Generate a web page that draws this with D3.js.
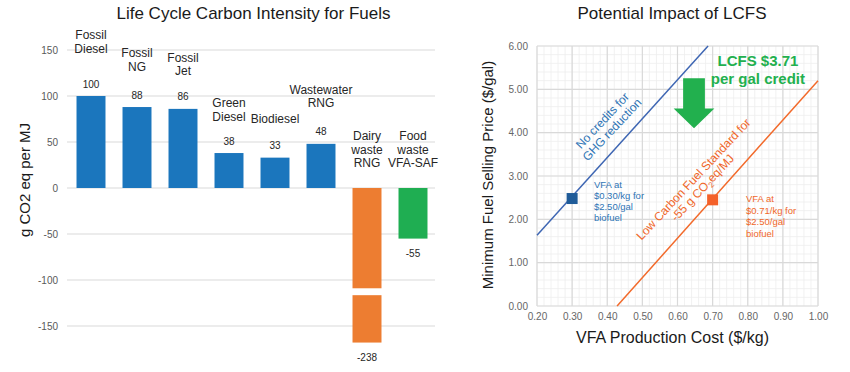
<!DOCTYPE html>
<html>
<head>
<meta charset="utf-8">
<script src="https://cdn.jsdelivr.net/npm/d3@7/dist/d3.min.js"></script>
<style>
  html, body { margin: 0; padding: 0; background: #ffffff; }
  svg { display: block; font-family: "Liberation Sans", Arial, Helvetica, sans-serif; }
</style>
</head>
<body>
<svg id="chart" width="850" height="372"></svg>
<script>
// ---------- Left chart data ----------
const categories = ["Fossil Diesel", "Fossil NG", "Fossil Jet", "Green Diesel", "Biodiesel", "Wastewater RNG", "Dairy waste RNG", "Food waste VFA-SAF"];
const categoryLines = [["Fossil", "Diesel"], ["Fossil", "NG"], ["Fossil", "Jet"], ["Green", "Diesel"], ["Biodiesel"], ["Wastewater", "RNG"], ["Dairy", "waste", "RNG"], ["Food", "waste", "VFA-SAF"]];
const ciValues = [100, 88, 86, 38, 33, 48, -238, -55];
const barGroup = ["fossil", "fossil", "fossil", "fossil", "fossil", "fossil", "dairy", "food"];
const ciTicks = [150, 100, 50, 0, -50, -100, -150];
const ciAxisFloor = -168;          // value where the broken bar is cut
const ciBreak = [-109, -116.5];    // axis break band on the broken bar

// ---------- Right chart data ----------
const costTicks = [0.2, 0.3, 0.4, 0.5, 0.6, 0.7, 0.8, 0.9, 1.0];
const priceTicks = [0, 1, 2, 3, 4, 5, 6];
const noCreditLine = [[0.2, 1.63], [0.687, 6.0]];
const lcfsLine = [[0.428, 0.0], [1.0, 5.2]];
const noCreditPoint = [0.30, 2.48];
const lcfsPoint = [0.70, 2.45];
const noCreditNote = ["VFA at", "$0.30/kg for", "$2.50/gal", "biofuel"];
const lcfsNote = ["VFA at", "$0.71/kg for", "$2.50/gal", "biofuel"];
const creditText = ["LCFS $3.71", "per gal credit"];

const svg = d3.select("#chart");

// ================= LEFT CHART =================
const colors = { fossil: "#1b76bd", dairy: "#ed7d31", food: "#1fae52" };
const yL = d3.scaleLinear().domain([-150, 150]).range([326, 50]);
const xL = d3.scaleBand().domain(categories).range([68, 436]).paddingInner(0.37).paddingOuter(0.185);
const gridL = [67, 435];

svg.append("text").attr("x", 253.5).attr("y", 19).attr("text-anchor", "middle")
  .attr("font-size", 17).attr("fill", "#1a1a1a").text("Life Cycle Carbon Intensity for Fuels");

const gL = svg.append("g");
gL.selectAll("line.grid").data(ciTicks).join("line")
  .attr("x1", gridL[0]).attr("x2", gridL[1])
  .attr("y1", d => yL(d)).attr("y2", d => yL(d))
  .attr("stroke", "#d9d9d9").attr("stroke-width", 1);

const yAxisL = d3.axisLeft(yL).tickValues(ciTicks).tickFormat(d => String(d)).tickSize(0).tickPadding(0);
gL.append("g").attr("transform", "translate(58,0)").call(yAxisL)
  .call(g => g.select(".domain").remove())
  .call(g => g.selectAll("text").attr("font-size", 10).attr("fill", "#595959")
    .attr("font-family", "Liberation Sans, Arial, sans-serif"));

svg.append("text").attr("transform", "translate(30,180) rotate(-90)")
  .attr("text-anchor", "middle").attr("font-size", 15).attr("fill", "#1a1a1a")
  .text("g CO2 eq per MJ");

// bars
const shown = v => Math.max(v, ciAxisFloor);
gL.selectAll("rect.bar").data(ciValues).join("rect")
  .attr("x", (d, i) => xL(categories[i]))
  .attr("width", xL.bandwidth())
  .attr("y", d => yL(Math.max(0, shown(d))))
  .attr("height", d => Math.abs(yL(shown(d)) - yL(0)))
  .attr("fill", (d, i) => colors[barGroup[i]]);

// axis break on the truncated bar
ciValues.forEach((v, i) => {
  if (v < ciAxisFloor) {
    gL.append("rect")
      .attr("x", xL(categories[i]) - 2).attr("width", xL.bandwidth() + 4)
      .attr("y", yL(ciBreak[0])).attr("height", yL(ciBreak[1]) - yL(ciBreak[0]))
      .attr("fill", "#ffffff");
  }
});

// value labels
gL.selectAll("text.val").data(ciValues).join("text")
  .attr("x", (d, i) => xL(categories[i]) + xL.bandwidth() / 2)
  .attr("y", d => d >= 0 ? yL(d) - 8.5 : yL(shown(d)) + 18.5)
  .attr("text-anchor", "middle").attr("font-size", 10).attr("fill", "#262626")
  .text(d => String(d));

// category labels
const labelGap = [27, 20, 17, 16, 18, 20, 0, 0]; // px between value label and last line
categoryLines.forEach((lines, i) => {
  const v = ciValues[i];
  const cx = xL(categories[i]) + xL.bandwidth() / 2;
  let lastBase;
  if (v >= 0) lastBase = yL(v) - 8.5 - 12 - labelGap[i] + 4;
  else lastBase = yL(0) - 21;
  const t = gL.append("text").attr("text-anchor", "middle").attr("font-size", 12).attr("fill", "#262626");
  lines.forEach((s, k) => {
    t.append("tspan").attr("x", cx).attr("y", lastBase - (lines.length - 1 - k) * 13.5).text(s);
  });
});

// ================= RIGHT CHART =================
const xR = d3.scaleLinear().domain([0.2, 1.0]).range([537, 818]);
const yR = d3.scaleLinear().domain([0, 6]).range([306, 46]);
const blue = "#3e66b3", blueText = "#2e74b5", blueMark = "#1f5b98";
const orange = "#f26a2b", orangeText = "#f0672a", orangeMark = "#f4612a";
const green = "#22b04e";

svg.append("text").attr("x", 672).attr("y", 19).attr("text-anchor", "middle")
  .attr("font-size", 17).attr("fill", "#1a1a1a").text("Potential Impact of LCFS");

const gR = svg.append("g");
// minor grid
const minorX = d3.range(0.2, 1.0001, 0.02);
const minorY = d3.range(0, 6.0001, 0.2);
gR.selectAll("line.mx").data(minorX).join("line")
  .attr("x1", d => xR(d)).attr("x2", d => xR(d)).attr("y1", yR(0)).attr("y2", yR(6))
  .attr("stroke", "#eeeeee").attr("stroke-width", 0.8);
gR.selectAll("line.my").data(minorY).join("line")
  .attr("y1", d => yR(d)).attr("y2", d => yR(d)).attr("x1", xR(0.2)).attr("x2", xR(1.0))
  .attr("stroke", "#eeeeee").attr("stroke-width", 0.8);
// major grid
gR.selectAll("line.MX").data(costTicks).join("line")
  .attr("x1", d => xR(d)).attr("x2", d => xR(d)).attr("y1", yR(0)).attr("y2", yR(6))
  .attr("stroke", "#d9d9d9").attr("stroke-width", 1.2);
gR.selectAll("line.MY").data(priceTicks).join("line")
  .attr("y1", d => yR(d)).attr("y2", d => yR(d)).attr("x1", xR(0.2)).attr("x2", xR(1.0))
  .attr("stroke", "#d9d9d9").attr("stroke-width", 1.2);

// axes tick labels
gR.append("g").attr("transform", `translate(0,${yR(0) + 7})`)
  .call(d3.axisBottom(xR).tickValues(costTicks).tickFormat(d3.format(".2f")).tickSize(0).tickPadding(0))
  .call(g => g.select(".domain").remove())
  .call(g => g.selectAll("text").attr("font-size", 10).attr("fill", "#666666")
    .attr("font-family", "Liberation Sans, Arial, sans-serif"));
gR.append("g").attr("transform", `translate(${xR(0.2) - 9},0)`)
  .call(d3.axisLeft(yR).tickValues(priceTicks).tickFormat(d3.format(".2f")).tickSize(0).tickPadding(0))
  .call(g => g.select(".domain").remove())
  .call(g => g.selectAll("text").attr("font-size", 10).attr("fill", "#666666")
    .attr("font-family", "Liberation Sans, Arial, sans-serif"));

svg.append("text").attr("x", 672.5).attr("y", 342.5).attr("text-anchor", "middle")
  .attr("font-size", 16).attr("fill", "#1a1a1a").text("VFA Production Cost ($/kg)");
svg.append("text").attr("transform", "translate(493,175) rotate(-90)")
  .attr("text-anchor", "middle").attr("font-size", 15).attr("fill", "#1a1a1a")
  .text("Minimum Fuel Selling Price ($/gal)");

// lines
const lineGen = d3.line().x(d => xR(d[0])).y(d => yR(d[1]));
gR.append("path").datum(noCreditLine).attr("d", lineGen).attr("fill", "none")
  .attr("stroke", blue).attr("stroke-width", 1.5);
gR.append("path").datum(lcfsLine).attr("d", lineGen).attr("fill", "none")
  .attr("stroke", orange).attr("stroke-width", 1.5);

// markers
const mk = 11;
gR.append("rect").attr("x", xR(noCreditPoint[0]) - mk / 2).attr("y", yR(noCreditPoint[1]) - mk / 2)
  .attr("width", mk).attr("height", mk).attr("fill", blueMark);
gR.append("rect").attr("x", xR(lcfsPoint[0]) - mk / 2).attr("y", yR(lcfsPoint[1]) - mk / 2)
  .attr("width", mk).attr("height", mk).attr("fill", orangeMark);

// notes near markers
function note(lines, x0, y0, color, lh) {
  const t = gR.append("text").attr("font-size", 9.5).attr("fill", color);
  lines.forEach((s, k) => t.append("tspan").attr("x", xR(x0)).attr("y", yR(y0) + k * lh).text(s));
}
note(noCreditNote, 0.362, 2.72, blueText, 11);
note(lcfsNote, 0.795, 2.40, orangeText, 11.5);

// rotated line labels
const ang = -47;
const gb = gR.append("g").attr("transform", `translate(${xR(0.399)},${yR(4.18)}) rotate(${ang})`);
gb.append("text").attr("text-anchor", "middle").attr("y", -2).attr("font-size", 12).attr("fill", blueText).text("No credits for");
gb.append("text").attr("text-anchor", "middle").attr("y", 11).attr("font-size", 12).attr("fill", blueText).text("GHG reduction");

const go = gR.append("g").attr("transform", `translate(${xR(0.658)},${yR(2.83)}) rotate(${ang})`);
go.append("text").attr("text-anchor", "middle").attr("y", -2).attr("font-size", 12).attr("fill", orangeText).text("Low Carbon Fuel Standard for");
const t2 = go.append("text").attr("text-anchor", "middle").attr("y", 10.5).attr("font-size", 12).attr("fill", orangeText);
t2.append("tspan").text("-55 g CO");
t2.append("tspan").attr("font-size", 8).attr("dy", 3).text("2");
t2.append("tspan").attr("dy", -3).text("eq/MJ");

// credit arrow (data units)
const arrow = { x: 0.647, top: 5.255, neck: 4.56, tip: 4.10, shaft: 0.031, head: 0.058 };
const ap = [
  [arrow.x - arrow.shaft, arrow.top], [arrow.x + arrow.shaft, arrow.top],
  [arrow.x + arrow.shaft, arrow.neck], [arrow.x + arrow.head, arrow.neck],
  [arrow.x, arrow.tip], [arrow.x - arrow.head, arrow.neck],
  [arrow.x - arrow.shaft, arrow.neck]
];
gR.append("path").attr("d", lineGen(ap) + "Z").attr("fill", green);

const ct = gR.append("text").attr("text-anchor", "middle").attr("font-size", 15)
  .attr("font-weight", "bold").attr("fill", green);
ct.append("tspan").attr("x", xR(0.829)).attr("y", yR(5.54)).text(creditText[0]);
ct.append("tspan").attr("x", xR(0.829)).attr("y", yR(5.12)).text(creditText[1]);
</script>
</body>
</html>
